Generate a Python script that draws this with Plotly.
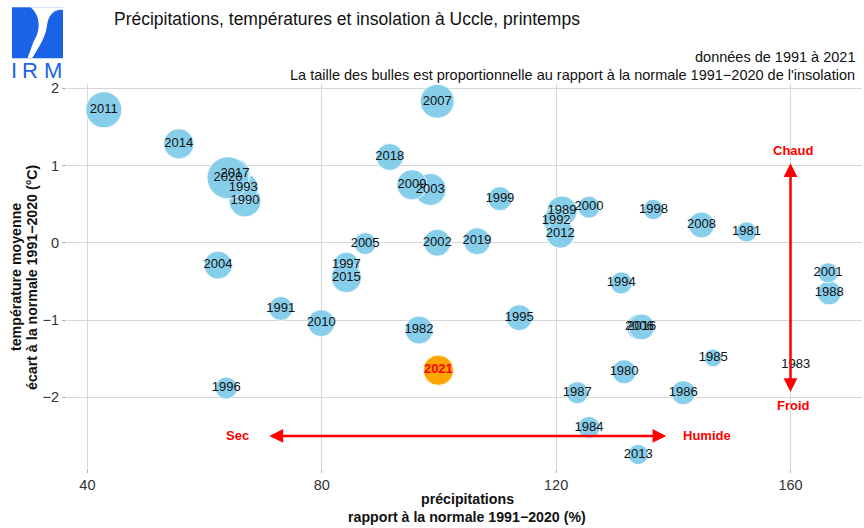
import numpy as np
import plotly.graph_objects as go

years = [1980, 1981, 1982, 1983, 1984, 1985, 1986, 1987, 1988, 1989,
         1990, 1991, 1992, 1993, 1994, 1995, 1996, 1997, 1998, 1999,
         2000, 2001, 2002, 2003, 2004, 2005, 2006, 2007, 2008, 2009,
         2010, 2011, 2012, 2013, 2014, 2015, 2016, 2017, 2018, 2019,
         2020, 2021]
precip = [131.6, 152.5, 96.6, 160.9, 125.6, 146.8, 141.7, 123.6, 166.6, 121.0,
          66.9, 73.0, 120.0, 66.6, 131.1, 113.7, 63.7, 84.2, 136.6, 110.4,
          125.6, 166.4, 99.7, 98.5, 62.3, 87.4, 134.2, 99.7, 144.8, 95.4,
          79.9, 42.8, 120.7, 134.0, 55.6, 84.2, 134.6, 65.2, 91.6, 106.5,
          64.0, 99.9]
temp = [-1.67, 0.14, -1.13, -1.58, -2.39, -1.49, -1.94, -1.94, -0.65, 0.41,
        0.54, -0.85, 0.29, 0.71, -0.52, -0.97, -1.88, -0.29, 0.43, 0.57,
        0.46, -0.39, 0.00, 0.69, -0.29, -0.01, -1.09, 1.83, 0.23, 0.75,
        -1.04, 1.72, 0.11, -2.74, 1.28, -0.45, -1.09, 0.89, 1.11, 0.02,
        0.84, -1.65]
insol = [86, 77, 97, 56, 81, 72, 86, 81, 86, 104,
         110, 86, 91, 104, 81, 91, 81, 91, 77, 86,
         81, 77, 94, 110, 97, 81, 91, 117, 91, 104,
         94, 125, 97, 77, 104, 104, 91, 104, 94, 94,
         150, 104]

x_ticks = [40, 80, 120, 160]
y_ticks = [-2, -1, 0, 1, 2]
y_ticklabels = ["\u22122", "\u22121", "0", "1", "2"]

FONT = "Liberation Sans, Arial, sans-serif"
W, H = 864, 528
ML, MR, MT, MB = 67, 2, 84, 60
PW, PH = W - ML - MR, H - MT - MB


def px(x):
    return (x - ML) / PW


def py(y):
    return (H - MB - y) / PH


sizes = [2 * np.sqrt((v - 55) * 4.64) for v in insol]
colors = ["#FFA500" if y == 2021 else "#87CEEB" for y in years]
labels = ["<b>%d</b>" % y if y == 2021 else str(y) for y in years]
tcolors = ["red" if y == 2021 else "#111111" for y in years]

fig = go.Figure()
fig.add_trace(go.Scatter(
    x=precip, y=temp, mode="markers+text", text=labels,
    textposition="middle center",
    textfont=dict(family=FONT, size=13, color=tcolors),
    marker=dict(size=sizes, sizemode="diameter", color=colors, opacity=1,
                line=dict(color="white", width=0.8)),
    hoverinfo="skip", showlegend=False,
))

ann = []
# title and subtitles
ann.append(dict(text="Précipitations, températures et insolation à Uccle, printemps",
                x=px(112), y=py(19), xref="paper", yref="paper", xanchor="left",
                yanchor="middle", showarrow=False,
                font=dict(family=FONT, size=17.5, color="#111111")))
ann.append(dict(text="données de 1991 à 2021", x=px(857), y=py(57), xref="paper",
                yref="paper", xanchor="right", yanchor="middle", showarrow=False,
                font=dict(family=FONT, size=14.5, color="#111111")))
ann.append(dict(text="La taille des bulles est proportionnelle au rapport à la normale 1991\u22122020 de l'insolation",
                x=px(857), y=py(75), xref="paper", yref="paper", xanchor="right",
                yanchor="middle", showarrow=False,
                font=dict(family=FONT, size=14.5, color="#111111")))
# axis titles
ann.append(dict(text="<b>précipitations</b>", x=px(467), y=py(499), xref="paper",
                yref="paper", xanchor="center", yanchor="middle", showarrow=False,
                font=dict(family=FONT, size=14.2, color="#111111")))
ann.append(dict(text="<b>rapport à la normale 1991\u22122020 (%)</b>", x=px(467), y=py(517),
                xref="paper", yref="paper", xanchor="center", yanchor="middle",
                showarrow=False, font=dict(family=FONT, size=14.2, color="#111111")))
ann.append(dict(text="<b>température moyenne</b>", x=px(16), y=py(277), xref="paper",
                yref="paper", xanchor="center", yanchor="middle", textangle=-90,
                showarrow=False, font=dict(family=FONT, size=14.2, color="#111111")))
ann.append(dict(text="<b>écart à la normale 1991\u22122020 (°C)</b>", x=px(32), y=py(277),
                xref="paper", yref="paper", xanchor="center", yanchor="middle",
                textangle=-90, showarrow=False,
                font=dict(family=FONT, size=14.2, color="#111111")))
# arrows
for (x0, y0, x1, y1) in [(70.8, -2.5, 138.8, -2.5), (160, -1.95, 160, 1.03)]:
    ann.append(dict(x=x1, y=y1, ax=x0, ay=y0, xref="x", yref="y", axref="x",
                    ayref="y", text="", showarrow=True, arrowhead=2,
                    startarrowhead=2, arrowside="end+start", arrowwidth=2.5,
                    arrowsize=1.1, startarrowsize=1.1, arrowcolor="red",
                    standoff=0, startstandoff=0))
for (t, x, y) in [("Sec", 65.6, -2.5), ("Humide", 145.8, -2.5),
                  ("Chaud", 160.5, 1.2), ("Froid", 160.5, -2.11)]:
    ann.append(dict(text="<b>%s</b>" % t, x=x, y=y, xref="x", yref="y",
                    showarrow=False, xanchor="center", yanchor="middle",
                    font=dict(family=FONT, size=13, color="red")))
# logo letters
for (t, cx) in [("I", 14), ("R", 29.5), ("M", 52.5)]:
    ann.append(dict(text=t, x=px(cx), y=py(70), xref="paper", yref="paper",
                    xanchor="center", yanchor="middle", showarrow=False,
                    font=dict(family=FONT, size=22, color="#1a63e6")))

# logo shapes
def P(a, b):
    return "%.5f,%.5f" % (px(a), py(b))

logo_path = ("M" + P(30.3, 7.3) + " L" + P(63, 7.3) + " L" + P(63, 10) +
             " C" + P(55, 9) + " " + P(49, 14) + " " + P(47.2, 24) +
             " C" + P(46, 36) + " " + P(41, 44) + " " + P(32.1, 58.3) +
             " L" + P(27.5, 58.3) + " L" + P(33.8, 41.1) +
             " C" + P(40.9, 30.7) + " " + P(40.9, 15.2) + " " + P(30.3, 7.3) + " Z")
shapes = [
    dict(type="rect", xref="paper", yref="paper", x0=px(12), x1=px(63),
         y0=py(58.3), y1=py(7.3), fillcolor="#1a63e6", line=dict(width=0),
         layer="above"),
    dict(type="path", xref="paper", yref="paper", path=logo_path,
         fillcolor="white", line=dict(width=0), layer="above"),
]

fig.update_layout(
    width=W, height=H,
    margin=dict(l=ML, r=MR, t=MT, b=MB),
    plot_bgcolor="white", paper_bgcolor="white",
    font=dict(family=FONT, color="#333333"),
    annotations=ann, shapes=shapes, showlegend=False,
    xaxis=dict(range=[36.52, 172.2], tickvals=x_ticks, showgrid=True,
               gridcolor="#d6d6d6", gridwidth=1, zeroline=False, showline=False,
               ticks="outside", ticklen=4, tickcolor="#b3b3b3",
               tickfont=dict(family=FONT, size=14.5, color="#333333")),
    yaxis=dict(range=[-2.915, 2.054], tickvals=y_ticks, ticktext=y_ticklabels,
               showgrid=True, gridcolor="#d6d6d6", gridwidth=1, zeroline=False,
               showline=False, ticks="outside", ticklen=4, tickcolor="#b3b3b3",
               tickfont=dict(family=FONT, size=14.5, color="#333333")),
)

fig.write_html("out.html", config={"displayModeBar": False},
               post_script="document.body.style.margin='0';document.body.style.overflow='hidden';")
